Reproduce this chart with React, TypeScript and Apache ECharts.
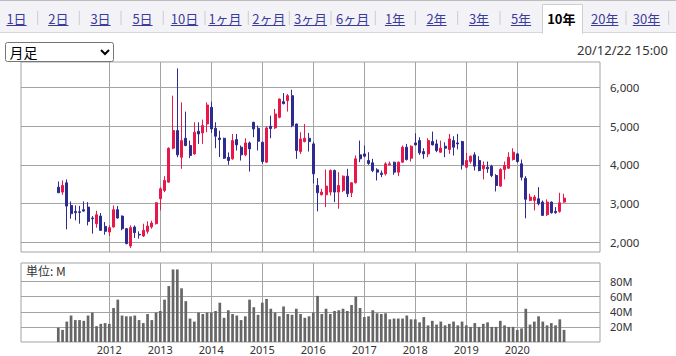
import React, { useEffect, useRef } from 'react';
import * as echarts from 'echarts';

// ---- data (monthly candles, Jan 2011 = index 0) ----
const FIRST_YEAR = 2011;
const OPEN = [
  3424, 3296, 3536, 2952, 2798, 2790, 2841, 2909, 2626, 2480, 2678, 2412,
  2266, 2395, 2841, 2678, 2352, 1906, 2395, 2205, 2163, 2283, 2395, 2480,
  3124, 3338, 3553, 4428, 4883, 4196, 4685, 4497, 4282, 4866, 4823, 5054,
  5484, 4943, 4690, 4685, 4196, 4154, 4651, 4454, 4257, 4565, 5097, 4943,
  4582, 4068, 4995, 4952, 5226, 5630, 5655, 5784, 5054, 4342, 4600, 4685,
  4540, 3467, 3227, 3227, 3296, 3853, 3296, 3338, 3707, 3278, 3536, 4257,
  4282, 4111, 4051, 3870, 3785, 3767, 4000, 4068, 3810, 4068, 4454, 4171,
  4565, 4625, 4342, 4282, 4600, 4540, 4325, 4480, 4394, 4625, 4565, 4600,
  3939, 4085, 4257, 4111, 3896, 3939, 3965, 3724, 3450, 3879, 3913, 4136,
  4282, 4025, 3650, 3081, 3081, 3124, 3038, 2712, 3038, 2798, 2798, 3038,
];
const CLOSE = [
  3278, 3467, 2935, 2738, 2764, 2770, 2806, 2540, 2609, 2712, 2309, 2283,
  2377, 2841, 2626, 2352, 1966, 2377, 2249, 2190, 2309, 2420, 2498, 3021,
  3381, 3596, 4428, 4883, 4257, 4625, 4497, 4239, 4840, 4797, 5012, 5544,
  4926, 4737, 4650, 4171, 4111, 4625, 4514, 4257, 4565, 4411, 4926, 4608,
  4085, 4952, 4934, 5312, 5698, 5578, 5784, 5012, 4368, 4668, 4685, 4600,
  3767, 3278, 3296, 3450, 3853, 3296, 3467, 3707, 3253, 3536, 4154, 4154,
  4222, 4034, 3853, 3810, 3750, 4025, 4025, 3810, 4068, 4454, 4136, 4480,
  4514, 4308, 4282, 4625, 4514, 4368, 4428, 4428, 4668, 4454, 4540, 4000,
  4111, 4222, 3965, 3853, 3982, 3896, 3724, 3467, 3879, 3982, 4196, 4325,
  4085, 3680, 3110, 3167, 3167, 2995, 2695, 3038, 2764, 2764, 3021, 3141,
];
const LOW = [
  3278, 3227, 2335, 2609, 2566, 2480, 2790, 2437, 2223, 2377, 2292, 2197,
  2163, 2380, 2610, 2310, 1950, 1854, 2112, 2094, 2137, 2223, 2352, 2460,
  2824, 3296, 3540, 4400, 4196, 3896, 4480, 4171, 4260, 4540, 4540, 4840,
  4823, 4428, 4200, 4150, 4000, 4130, 4368, 4111, 4222, 3827, 4711, 4368,
  4025, 4050, 4685, 4926, 5200, 5560, 5372, 4969, 4154, 4282, 4580, 4342,
  3520, 2798, 3210, 2909, 3210, 3038, 2867, 3296, 3167, 3167, 3520, 4068,
  4196, 4000, 3810, 3596, 3682, 3724, 3990, 3742, 3707, 4050, 4110, 4085,
  4500, 4257, 4154, 4200, 4500, 4325, 4310, 4196, 4282, 4239, 4400, 3879,
  3910, 4030, 3853, 3830, 3622, 3793, 3682, 3313, 3430, 3622, 3890, 4110,
  4051, 3596, 2619, 3060, 2824, 2952, 2678, 2678, 2740, 2740, 2764, 3020,
];
const HIGH = [
  3570, 3596, 3622, 3055, 2952, 2940, 3055, 3038, 2678, 2815, 2755, 2523,
  2437, 2952, 2935, 2690, 2370, 2437, 2437, 2283, 2480, 2540, 2558, 3030,
  3424, 3707, 4450, 5784, 6487, 5612, 5372, 4625, 5097, 5097, 5166, 5612,
  5629, 5097, 4880, 4700, 4320, 4797, 4797, 4497, 4685, 4600, 5110, 5012,
  4600, 4995, 5269, 5441, 5710, 5852, 5827, 5938, 5060, 4840, 5054, 4823,
  4596, 3656, 3381, 3879, 3879, 3879, 3810, 3724, 3896, 3553, 4239, 4625,
  4497, 4325, 4154, 3913, 3853, 4068, 4085, 4080, 4085, 4497, 4540, 4500,
  4814, 4711, 4428, 4685, 4857, 4651, 4625, 4582, 4797, 4737, 4797, 4620,
  4308, 4240, 4325, 4222, 4085, 4085, 4000, 3760, 3913, 4085, 4325, 4428,
  4308, 4136, 3707, 3253, 3220, 3424, 3080, 3107, 3055, 2909, 3278, 3253,
];
const VOLUME = [
  19, 16, 27, 35, 29, 29, 28, 35, 39, 21, 24, 25,
  24, 45, 56, 35, 34, 34, 35, 29, 25, 37, 29, 39,
  41, 56, 74, 96, 96, 71, 54, 31, 27, 39, 37, 39,
  39, 41, 52, 32, 42, 37, 35, 29, 34, 56, 46, 36,
  52, 57, 44, 39, 34, 47, 37, 36, 44, 37, 32, 34,
  39, 61, 37, 44, 37, 41, 42, 44, 41, 49, 60, 45,
  33, 34, 42, 38, 37, 38, 30, 31, 31, 31, 35, 30,
  30, 26, 33, 22, 28, 23, 27, 22, 24, 27, 22, 27,
  22, 20, 25, 20, 24, 26, 20, 20, 28, 22, 20, 20,
  16, 18, 44, 23, 27, 34, 27, 22, 25, 22, 30, 16,
];
const YEAR_TICKS = [12, 24, 36, 48, 60, 72, 84, 96, 108];
const PRICE_TICKS = [2000, 3000, 4000, 5000, 6000];
const VOLUME_TICKS = [20, 40, 60, 80];
const TABS = ['1日', '2日', '3日', '5日', '10日', '1ヶ月', '2ヶ月', '3ヶ月', '6ヶ月', '1年', '2年', '3年', '5年', '10年', '20年', '30年'];
const SELECTED_TAB = '10年';
const PERIOD_LABEL = '月足';
const TIMESTAMP = '20/12/22 15:00';
const VOLUME_UNIT = '単位: M';

const RED = '#e8194a';
const BLUE = '#2d2b8f';
const GRID = '#a3a3a3';
const LINK = '#3b3b9b';
const JP = '"Noto Sans CJK JP", "Noto Sans", sans-serif';
const LAT = '"Noto Sans", "Open Sans", sans-serif';

export default function App() {
  const ref = useRef<HTMLDivElement>(null);
  useEffect(() => {
    if (!ref.current) return;
    const chart = echarts.init(ref.current, undefined, { renderer: 'svg', width: 676, height: 356 });

    const canvas = document.createElement('canvas');
    const ctx = canvas.getContext('2d')!;
    const tabCenters = [16.5, 58.3, 100.5, 142.5, 184.5, 225, 268.8, 310.5, 352.7, 395, 436.5, 479, 521, 561.3, 604.7, 646.5];
    const seps = [37.7, 79.3, 121, 163.3, 205, 248.3, 289.3, 331, 375.3, 415.3, 457.7, 500, 626, 668.7];

    const g: any[] = [];
    g.push({ type: 'rect', shape: { x: 0, y: 0, width: 676, height: 33 }, style: { fill: '#f3f3f7' }, silent: true });
    g.push({ type: 'line', shape: { x1: 0, y1: 0.5, x2: 676, y2: 0.5 }, style: { stroke: '#bdbdbd', lineWidth: 1 } });
    g.push({ type: 'line', shape: { x1: 0, y1: 32.5, x2: 676, y2: 32.5 }, style: { stroke: '#d6d6d6', lineWidth: 1 } });
    // selected tab box
    g.push({ type: 'rect', shape: { x: 542.5, y: 4.5, width: 40, height: 29 }, style: { fill: '#fff', stroke: '#cfcfcf', lineWidth: 1 } });
    g.push({ type: 'rect', shape: { x: 543, y: 32, width: 39, height: 2 }, style: { fill: '#fff' } });
    seps.forEach((x) => {
      g.push({ type: 'line', shape: { x1: x, y1: 11, x2: x, y2: 25 }, style: { stroke: '#cccccc', lineWidth: 1 } });
    });
    TABS.forEach((t, i) => {
      const sel = t === SELECTED_TAB;
      const font = `${sel ? 'bold ' : ''}13px ${JP}`;
      ctx.font = font;
      const w = ctx.measureText(t).width;
      const cx = tabCenters[i];
      g.push({
        type: 'text', x: cx, y: 18.5,
        style: { text: t, fill: sel ? '#000' : LINK, font, align: 'center', verticalAlign: 'middle' },
      });
      if (!sel) {
        g.push({ type: 'line', shape: { x1: cx - w / 2, y1: 25.5, x2: cx + w / 2, y2: 25.5 }, style: { stroke: LINK, lineWidth: 1 } });
      }
    });
    // select box
    g.push({ type: 'rect', shape: { x: 5.5, y: 42.5, width: 108, height: 19, r: 2 }, style: { fill: '#fff', stroke: '#767676', lineWidth: 1 } });
    g.push({ type: 'text', x: 9.5, y: 52, style: { text: PERIOD_LABEL, fill: '#000', font: `14px ${JP}`, align: 'left', verticalAlign: 'middle' } });
    g.push({ type: 'polyline', shape: { points: [[101, 50], [105, 54], [109, 50]] }, style: { stroke: '#000', lineWidth: 2, fill: null } });
    g.push({ type: 'text', x: 668, y: 50, style: { text: TIMESTAMP, fill: '#333', font: `13px ${LAT}`, align: 'right', verticalAlign: 'middle' } });
    g.push({ type: 'text', x: 26, y: 270.5, style: { text: VOLUME_UNIT, fill: '#333', font: `12px ${JP}`, align: 'left', verticalAlign: 'middle' }, z: 100 });

    const p0 = 58.3;
    const perMonth = 4.25;
    const xMin = (21 - p0) / perMonth;
    const xMax = (600 - p0) / perMonth;

    const baseX = {
      type: 'value', min: xMin, max: xMax,
      axisLine: { show: false },
      axisTick: { show: false, customValues: YEAR_TICKS },
      splitLine: { show: true, lineStyle: { color: GRID, width: 1 } },
    };

    const option: any = {
      animation: false,
      backgroundColor: '#fff',
      grid: [
        { left: 21, top: 62, width: 579, height: 190, show: true, borderColor: GRID, borderWidth: 1, backgroundColor: 'transparent' },
        { left: 21, top: 263, width: 579, height: 79, show: true, borderColor: GRID, borderWidth: 1, backgroundColor: 'transparent' },
      ],
      xAxis: [
        { ...baseX, gridIndex: 0, axisLabel: { show: false, customValues: YEAR_TICKS } },
        {
          ...baseX, gridIndex: 1,
          axisLabel: {
            show: true, customValues: YEAR_TICKS, margin: 2, color: '#333', fontSize: 11, fontFamily: LAT,
            lineHeight: 11,
            formatter: (v: number) => String(FIRST_YEAR + Math.round(v / 12)),
          },
        },
      ],
      yAxis: [
        {
          type: 'value', gridIndex: 0, position: 'right', min: 1750, max: 6653,
          axisLine: { show: false },
          axisTick: { show: true, length: 5, customValues: PRICE_TICKS, lineStyle: { color: GRID } },
          axisLabel: {
            customValues: PRICE_TICKS, margin: 10, color: '#333', fontSize: 11.5, fontFamily: LAT,
            formatter: (v: number) => v.toLocaleString('en-US'),
          },
          splitLine: { show: true, lineStyle: { color: GRID } },
        },
        {
          type: 'value', gridIndex: 1, position: 'right', min: 0, max: 104.5,
          axisLine: { show: false },
          axisTick: { show: true, length: 5, customValues: VOLUME_TICKS, lineStyle: { color: GRID } },
          axisLabel: {
            customValues: VOLUME_TICKS, margin: 10, color: '#333', fontSize: 11, fontFamily: LAT,
            lineHeight: 12,
            formatter: (v: number) => `${v}M`,
          },
          splitLine: { show: true, lineStyle: { color: GRID } },
        },
      ],
      series: [
        {
          type: 'candlestick', xAxisIndex: 0, yAxisIndex: 0,
          data: OPEN.map((o, i) => [i, o, CLOSE[i], LOW[i], HIGH[i]]),
          encode: { x: 0, y: [1, 2, 3, 4] },
          barWidth: 2.4,
          itemStyle: { color: RED, color0: BLUE, borderColor: RED, borderColor0: BLUE, borderWidth: 1 },
        },
        {
          type: 'bar', xAxisIndex: 1, yAxisIndex: 1,
          data: VOLUME.map((v, i) => [i, v]),
          barWidth: 2.7,
          itemStyle: { color: '#666666' },
        },
      ],
      graphic: { elements: g },
    };
    chart.setOption(option);
    return () => chart.dispose();
  }, []);

  return (
    <div style={{ position: 'fixed', left: 0, top: 0, width: 676, height: 356, background: '#fff' }}>
      <div ref={ref} style={{ width: 676, height: 356 }} />
    </div>
  );
}
